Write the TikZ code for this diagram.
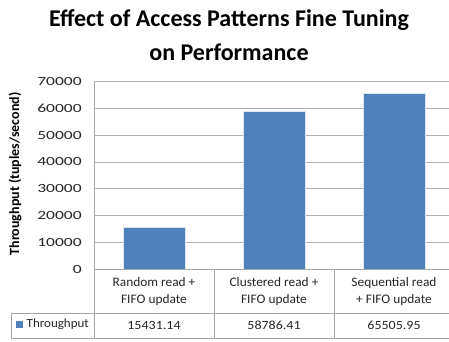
\documentclass[tikz,border=0pt]{standalone}
\usepackage{fontspec}
\setmainfont{Carlito}
\definecolor{barblue}{HTML}{4F81BD}
\definecolor{gridgray}{HTML}{B3B3B3}
\definecolor{tabgray}{HTML}{A6A6A6}
\begin{document}
\begin{tikzpicture}[x=1pt,y=-1pt,
  grid/.style={gridgray,line width=0.9pt},
  tab/.style={tabgray,line width=0.8pt},
  bar/.style={fill=barblue,draw=white!80!barblue,line width=0.6pt},
  tick/.style={anchor=east,font=\fontsize{12.5}{14}\selectfont,text=black!85,inner sep=0pt,xscale=1.4},
  cat/.style={align=center,font=\fontsize{13}{17.5}\selectfont,text=black!85,inner sep=0pt,xscale=1.03},
  val/.style={font=\fontsize{12.5}{14}\selectfont,text=black!85,inner sep=0pt,xscale=1.12},
  legtext/.style={font=\fontsize{12.5}{14}\selectfont,text=black!85,inner sep=0pt,xscale=1.04}]
\useasboundingbox (0,0) rectangle (449,341);
\fill[white] (0,0) rectangle (449,341);
% title
\node[font=\fontsize{24}{34}\selectfont\bfseries,align=center,inner sep=0pt] (title) at (229,35) {Effect of Access Patterns Fine Tuning\\on Performance};
% gridlines
\foreach \k in {1,...,7}{
  \draw[grid] (94,{269-\k*26.76}) -- (449,{269-\k*26.76});
}
% tick labels
\foreach \k/\lab in {0/0,1/10000,2/20000,3/30000,4/40000,5/50000,6/60000,7/70000}{
  \node[tick] (t\k) at (82,{269-\k*26.76}) {\lab};
}
% bars
\draw[bar] (123.5,269) rectangle (185.5,227.7);
\draw[bar] (243.5,269) rectangle (305.5,111.7);
\draw[bar] (363.5,269) rectangle (425.5,93.7);
% table lines
\draw[tab] (94,81.7) -- (94,338.5);
\draw[tab] (94,269) -- (449,269);
\draw[tab] (214,269) -- (214,338.5);
\draw[tab] (334,269) -- (334,338.5);
\draw[tab] (11,313) -- (449,313);
\draw[tab] (11,338.5) -- (449,338.5);
\draw[tab] (11,313) -- (11,338.5);
% axis title
\node[rotate=90,font=\fontsize{14}{16}\selectfont\bfseries,inner sep=0pt] (ytitle) at (15,174) {Throughput (tuples/second)};
% categories
\node[cat] (c1) at (154,291.5) {Random read +\\FIFO update};
\node[cat] (c2) at (274,291.5) {Clustered read +\\FIFO update};
\node[cat] (c3) at (394,291.5) {Sequential read\\+ FIFO update};
% data row
\fill[barblue] (16,321) rectangle (23,328);
\node[legtext,anchor=west] (lg) at (26.5,324.5) {Throughput};
\node[val] (v1) at (154,325.5) {15431.14};
\node[val] (v2) at (274,325.5) {58786.41};
\node[val] (v3) at (394,325.5) {65505.95};
\end{tikzpicture}
\end{document}
